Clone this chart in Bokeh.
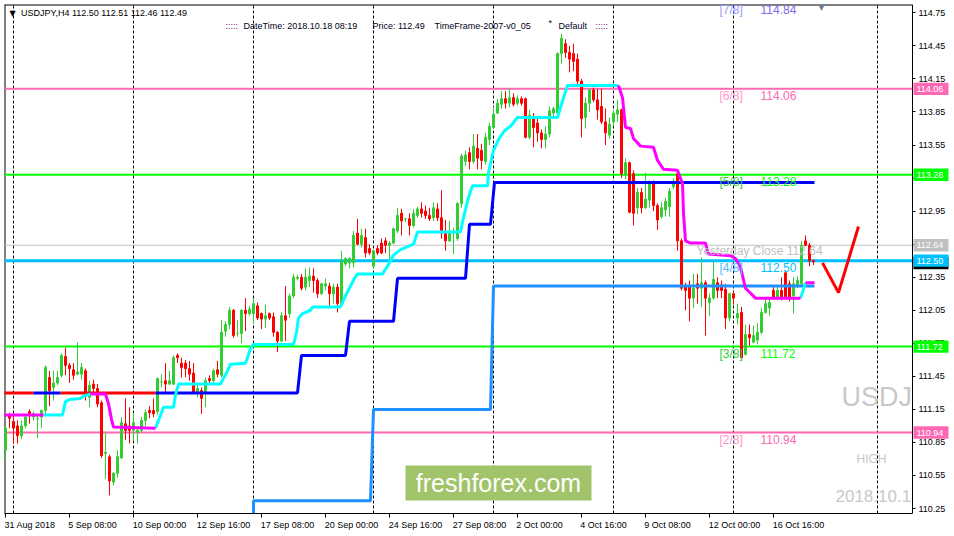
from bokeh.plotting import figure
from bokeh.models import Range1d, FixedTicker, NumeralTickFormatter, Label, ColumnDataSource
from bokeh.embed import file_html
from bokeh.resources import INLINE
from bokeh.core.properties import value

FONT = "Liberation Sans"

# ---------------- data (USDJPY H4, 31 Aug - 18 Oct 2018) ----------------
opens = [
    110.78, 111.09, 111.04, 111.00, 110.91, 111.00, 111.13, 111.08, 111.07, 111.08,
    111.14, 111.44, 111.35, 111.39, 111.46, 111.63, 111.55, 111.51, 111.47, 111.47,
    111.50, 111.26, 111.38, 111.34, 111.21, 110.75, 110.72, 110.49, 110.57, 110.71,
    111.02, 111.00, 110.96, 110.94, 110.96, 111.05, 111.14, 111.14, 111.13, 111.40,
    111.41, 111.38, 111.38, 111.64, 111.57, 111.57, 111.52, 111.48, 111.30, 111.32,
    111.30, 111.43, 111.41, 111.51, 111.46, 111.86, 111.92, 112.05, 111.84, 111.84,
    112.05, 112.02, 112.02, 112.09, 112.02, 111.97, 112.02, 111.99, 111.85, 111.77,
    112.00, 112.02, 112.18, 112.34, 112.35, 112.26, 112.32, 112.36, 112.32, 112.20,
    112.27, 112.27, 112.20, 112.26, 112.11, 112.47, 112.48, 112.48, 112.75, 112.65,
    112.71, 112.61, 112.45, 112.61, 112.66, 112.68, 112.64, 112.66, 112.77, 112.93,
    112.88, 112.88, 112.82, 112.91, 112.97, 112.95, 112.91, 112.89, 112.97, 112.89,
    112.77, 112.68, 112.75, 112.70, 113.02, 113.40, 113.48, 113.40, 113.52, 113.50,
    113.40, 113.60, 113.71, 113.84, 113.92, 113.97, 113.93, 113.98, 113.93, 113.97,
    113.97, 113.62, 113.80, 113.75, 113.66, 113.60, 113.65, 113.84, 113.84, 114.38,
    114.47, 114.39, 114.38, 114.33, 114.13, 113.80, 113.93, 114.05, 113.96, 113.90,
    113.76, 113.64, 113.76, 113.83, 113.87, 113.28, 113.39, 113.29, 112.98, 113.12,
    112.98, 113.05, 113.20, 113.00, 112.90, 112.96, 112.99, 113.17, 113.29, 112.68,
    112.27, 112.27, 112.16, 112.29, 112.25, 112.30, 112.12, 112.16, 112.30, 112.28,
    112.24, 111.98, 112.20, 111.98, 112.03, 111.65, 111.83, 111.76, 111.78, 111.85,
    112.03, 112.07, 112.23, 112.16, 112.23, 112.39, 112.29, 112.18, 112.27, 112.29,
    112.68, 112.64, 112.50]
highs = [
    111.00, 111.12, 111.11, 111.05, 111.05, 111.11, 111.15, 111.13, 111.11, 111.15,
    111.55, 111.50, 111.50, 111.50, 111.66, 111.71, 111.57, 111.57, 111.76, 111.57,
    111.52, 111.41, 111.42, 111.38, 111.23, 110.94, 110.74, 110.58, 110.78, 111.08,
    111.25, 111.17, 111.12, 110.98, 111.08, 111.15, 111.18, 111.25, 111.44, 111.47,
    111.57, 111.50, 111.64, 111.66, 111.62, 111.60, 111.59, 111.57, 111.38, 111.35,
    111.44, 111.46, 111.52, 111.59, 111.96, 111.95, 112.08, 112.06, 111.96, 112.06,
    112.16, 112.09, 112.16, 112.12, 112.03, 112.10, 112.03, 112.03, 111.86, 112.03,
    112.27, 112.20, 112.38, 112.37, 112.38, 112.43, 112.44, 112.43, 112.34, 112.30,
    112.34, 112.30, 112.29, 112.29, 112.59, 112.53, 112.53, 112.77, 112.88, 112.79,
    112.79, 112.65, 112.60, 112.64, 112.70, 112.71, 112.68, 112.80, 112.98, 112.97,
    112.89, 112.93, 112.97, 112.99, 113.03, 113.00, 112.98, 113.03, 113.02, 113.14,
    112.87, 112.86, 112.80, 113.03, 113.47, 113.50, 113.53, 113.65, 113.65, 113.56,
    113.66, 113.75, 113.90, 113.97, 114.04, 114.04, 114.06, 114.02, 114.00, 113.99,
    113.98, 113.87, 113.84, 113.80, 113.69, 113.72, 113.90, 113.90, 114.39, 114.56,
    114.51, 114.45, 114.47, 114.38, 114.15, 113.98, 114.06, 114.07, 114.06, 114.06,
    113.88, 113.80, 113.87, 113.96, 113.88, 113.43, 113.40, 113.32, 113.16, 113.16,
    113.30, 113.23, 113.23, 113.02, 113.03, 113.07, 113.16, 113.25, 113.32, 112.70,
    112.30, 112.32, 112.38, 112.38, 112.53, 112.32, 112.20, 112.50, 112.35, 112.32,
    112.29, 112.21, 112.22, 112.11, 112.08, 111.92, 111.92, 111.91, 111.93, 112.07,
    112.16, 112.15, 112.26, 112.28, 112.35, 112.41, 112.32, 112.35, 112.36, 112.68,
    112.73, 112.66, 112.51]
lows = [
    110.69, 110.98, 110.84, 110.84, 110.88, 110.98, 111.02, 111.05, 110.89, 110.98,
    111.11, 111.18, 111.23, 111.37, 111.44, 111.46, 111.39, 111.42, 111.46, 111.42,
    111.23, 111.17, 111.28, 111.17, 110.71, 110.52, 110.37, 110.46, 110.53, 110.70,
    110.87, 110.84, 110.87, 110.84, 110.94, 111.00, 111.07, 111.08, 111.10, 111.35,
    111.29, 111.37, 111.37, 111.57, 111.44, 111.44, 111.41, 111.29, 111.26, 111.11,
    111.17, 111.39, 111.38, 111.44, 111.44, 111.81, 111.88, 111.80, 111.81, 111.75,
    111.86, 112.00, 111.93, 111.96, 111.88, 111.89, 111.96, 111.81, 111.67, 111.76,
    111.77, 111.98, 112.16, 112.32, 112.23, 112.23, 112.26, 112.21, 112.16, 112.19,
    112.23, 112.09, 112.11, 112.03, 112.09, 112.45, 112.43, 112.44, 112.64, 112.62,
    112.53, 112.55, 112.43, 112.55, 112.56, 112.57, 112.47, 112.65, 112.75, 112.73,
    112.85, 112.73, 112.80, 112.89, 112.89, 112.88, 112.86, 112.86, 112.86, 112.70,
    112.59, 112.67, 112.56, 112.68, 112.98, 113.36, 113.33, 113.38, 113.33, 113.33,
    113.37, 113.55, 113.70, 113.83, 113.88, 113.88, 113.89, 113.90, 113.91, 113.91,
    113.61, 113.60, 113.53, 113.58, 113.52, 113.52, 113.62, 113.80, 113.83, 114.29,
    114.34, 114.21, 114.22, 114.09, 113.62, 113.70, 113.85, 113.94, 113.78, 113.74,
    113.55, 113.61, 113.72, 113.76, 113.25, 113.24, 112.93, 112.82, 112.92, 112.93,
    112.97, 112.98, 112.95, 112.78, 112.88, 112.90, 112.90, 113.15, 112.59, 112.23,
    112.05, 111.95, 112.07, 112.11, 112.08, 111.82, 112.00, 112.15, 112.16, 112.16,
    111.88, 111.95, 112.10, 111.92, 111.61, 111.64, 111.73, 111.75, 111.74, 111.83,
    112.02, 112.00, 112.16, 112.14, 112.14, 112.15, 112.13, 112.02, 112.25, 112.27,
    112.63, 112.45, 112.46]
closes = [
    110.98, 111.07, 110.98, 110.91, 111.00, 111.08, 111.11, 111.11, 111.07, 111.14,
    111.53, 111.32, 111.39, 111.44, 111.64, 111.55, 111.52, 111.46, 111.49, 111.53,
    111.28, 111.37, 111.34, 111.20, 110.73, 110.76, 110.50, 110.57, 110.72, 111.03,
    110.96, 110.96, 111.03, 110.96, 111.05, 111.12, 111.12, 111.11, 111.43, 111.40,
    111.38, 111.41, 111.62, 111.62, 111.53, 111.52, 111.47, 111.30, 111.34, 111.25,
    111.41, 111.41, 111.50, 111.47, 111.85, 111.92, 112.05, 111.82, 111.84, 112.05,
    112.02, 112.06, 112.11, 111.98, 111.97, 112.00, 111.98, 111.85, 111.77, 112.00,
    111.96, 112.18, 112.35, 112.35, 112.25, 112.35, 112.36, 112.32, 112.20, 112.29,
    112.29, 112.20, 112.26, 112.11, 112.50, 112.52, 112.52, 112.73, 112.65, 112.73,
    112.57, 112.57, 112.59, 112.57, 112.57, 112.64, 112.66, 112.79, 112.91, 112.86,
    112.88, 112.82, 112.93, 112.97, 112.93, 112.91, 112.88, 112.98, 112.89, 112.75,
    112.68, 112.77, 112.76, 113.02, 113.45, 113.46, 113.40, 113.54, 113.43, 113.41,
    113.62, 113.72, 113.83, 113.93, 113.97, 113.93, 113.98, 113.92, 113.97, 113.93,
    113.62, 113.82, 113.71, 113.66, 113.60, 113.65, 113.86, 113.88, 114.38, 114.52,
    114.39, 114.33, 114.31, 114.13, 113.79, 113.93, 114.05, 113.96, 113.87, 113.76,
    113.66, 113.74, 113.84, 113.87, 113.29, 113.39, 112.94, 112.93, 113.12, 112.98,
    113.06, 113.20, 113.00, 112.87, 112.98, 113.04, 113.13, 113.22, 112.68, 112.25,
    112.23, 112.16, 112.25, 112.25, 112.30, 112.16, 112.16, 112.33, 112.23, 112.23,
    111.98, 112.20, 112.16, 112.02, 111.62, 111.83, 111.80, 111.82, 111.85, 112.03,
    112.11, 112.12, 112.16, 112.23, 112.16, 112.16, 112.16, 112.29, 112.32, 112.64,
    112.64, 112.50, 112.49]

date_ticks = [0, 16, 32, 48, 64, 80, 96, 112, 128, 144, 160, 176, 192]
date_labels = ["31 Aug 2018", "5 Sep 08:00", "10 Sep 00:00", "12 Sep 16:00", "17 Sep 08:00",
               "20 Sep 00:00", "24 Sep 16:00", "27 Sep 08:00", "2 Oct 00:00", "4 Oct 16:00",
               "9 Oct 08:00", "12 Oct 00:00", "16 Oct 16:00"]
week_lines = [2, 32, 62, 92, 122, 152, 182, 218]
price_ticks = [110.25, 110.55, 110.85, 111.15, 111.45, 111.75, 112.05, 112.35,
               112.65, 112.95, 113.25, 113.55, 113.85, 114.15, 114.45, 114.75]

murray_names = ["[7/8]", "[6/8]", "[5/8]", "[4/8]", "[3/8]", "[2/8]"]
murray_levels = [114.84, 114.06, 113.28, 112.50, 111.72, 110.94]
yesterday_close = 112.64

# trailing stop (up = cyan, down = magenta)
trail_up_xs = [
    [9.5, 14.25, 15, 16, 18.75, 19.5, 21.25],
    [37.5, 38.25, 39.5, 42, 42.5, 43.25, 53.75, 55.5, 56.25, 60, 61.25, 62, 72, 72.75,
     73.25, 74.25, 76.25, 76.75, 83.75, 85.25, 87.25, 88, 94.25, 95.5, 97, 98.75, 102,
     103, 113.75, 114.25, 115.5, 116.25, 116.75, 120.5, 120.75, 122, 123.25, 124.75,
     126.25, 128, 138, 139.25, 140.5, 153.25],
    [198.75, 199.5, 200]]
trail_up_ys = [
    [111.10, 111.10, 111.22, 111.24, 111.25, 111.27, 111.29],
    [110.98, 111.05, 111.17, 111.17, 111.28, 111.38, 111.38, 111.50, 111.56, 111.57,
     111.70, 111.74, 111.74, 111.85, 111.98, 112.02, 112.05, 112.08, 112.08, 112.20,
     112.34, 112.38, 112.38, 112.45, 112.55, 112.60, 112.65, 112.76, 112.76, 112.85,
     113.04, 113.13, 113.18, 113.18, 113.30, 113.50, 113.60, 113.68, 113.72, 113.80,
     113.80, 113.95, 114.09, 114.09],
    [112.16, 112.24, 112.30]]
trail_dn_xs = [
    [-1, 9.5],
    [21.25, 25, 25.75, 26.5, 27, 37.5],
    [153.25, 154.25, 155, 156.25, 157, 158.75, 162, 163, 164.5, 168, 169.25, 169.5,
     170, 171.25, 175, 175.75, 181.25, 182.5, 183.75, 185, 187.5, 198.75],
    [200, 202.25]]
trail_dn_ys = [
    [111.10, 111.10],
    [111.29, 111.29, 111.20, 111.06, 110.99, 110.98],
    [114.09, 113.98, 113.71, 113.70, 113.61, 113.54, 113.53, 113.41, 113.33, 113.32,
     113.20, 112.93, 112.68, 112.66, 112.66, 112.56, 112.545, 112.52, 112.44, 112.25,
     112.16, 112.16],
    [112.30, 112.30]]

# step levels
red_level_xs = [[-1, 7], [13.75, 37.5]]
red_level_ys = [[111.30, 111.30], [111.30, 111.30]]
blue_step_xs = [[7, 13.75],
                [37.5, 73, 74, 85, 86, 97, 98, 115, 116, 121.25, 122.25, 202.25]]
blue_step_ys = [[111.30, 111.30],
                [111.30, 111.30, 111.64, 111.64, 111.95, 111.95, 112.34, 112.34,
                 112.83, 112.83, 113.21, 113.21]]
dodger_step_x = [62, 62, 91.25, 92, 121.25, 122, 202.25]
dodger_step_y = [110.10, 110.32, 110.32, 111.15, 111.15, 112.27, 112.27]

logo_x = [204.25, 208.25, 213.25]
logo_y = [112.48, 112.21, 112.81]

# ---------------- layout constants ----------------
X0, XEDGE, X1 = -0.25, 226.75, 236.75      # frame left, price-scale line, frame right (bars)
Y0, Y1 = 110.205, 114.8256                  # frame bottom / top (price)

p = figure(width=952, height=532, x_range=Range1d(X0, X1), y_range=Range1d(Y0, Y1),
           output_backend="svg", toolbar_location=None, y_axis_location="right",
           min_border_left=4, min_border_top=4, min_border_right=0, min_border_bottom=19,
           background_fill_color="white", border_fill_color="white")
p.outline_line_color = None
p.ygrid.visible = False
p.xgrid.ticker = FixedTicker(ticks=week_lines)
p.xgrid.grid_line_color = "black"
p.xgrid.grid_line_dash = "3 2"
p.xgrid.grid_line_width = 1

# price scale drawn at the chart's right edge
p.yaxis.fixed_location = XEDGE
p.yaxis.ticker = FixedTicker(ticks=price_ticks)
p.yaxis.formatter = NumeralTickFormatter(format="0.00")
p.yaxis.major_label_text_font = FONT
p.yaxis.major_label_text_font_size = "9px"
p.yaxis.major_label_text_color = "black"
p.yaxis.major_tick_out = 3
p.yaxis.major_tick_in = 0
p.yaxis.minor_tick_out = 0
p.yaxis.minor_tick_in = 0
p.yaxis.major_label_standoff = 3
p.yaxis.axis_line_color = "black"
p.yaxis.major_tick_line_color = "black"

# time scale: labels start at their tick (left aligned like MT4)
char_w = {" ": 2.5, ":": 2.5, "A": 6.0, "u": 5.0, "g": 5.0, "S": 6.0, "e": 5.0,
          "p": 5.0, "O": 7.0, "c": 4.5, "t": 2.5}
def text_w(s):
    return sum(char_w.get(ch, 5.0) for ch in s)
label_centers = [round((t + (text_w(lab) / 2 - 1) / 4) * 8) / 8
                 for t, lab in zip(date_ticks, date_labels)]
p.xaxis.bounds = (X0, XEDGE)
p.xaxis.ticker = FixedTicker(ticks=label_centers, minor_ticks=date_ticks)
p.xaxis.major_label_overrides = {c: lab for c, lab in zip(label_centers, date_labels)}
p.xaxis.major_label_text_font = FONT
p.xaxis.major_label_text_font_size = "9px"
p.xaxis.major_label_text_color = "black"
p.xaxis.major_label_standoff = 2
p.xaxis.major_tick_out = 0
p.xaxis.major_tick_in = 0
p.xaxis.minor_tick_out = 4
p.xaxis.minor_tick_in = 0
p.xaxis.minor_tick_line_color = "black"
p.xaxis.axis_line_color = "black"

# frame top / left border
p.segment(x0=[X0, X0], y0=[Y1, Y0], x1=[XEDGE, X0], y1=[Y1, Y1], line_color="black", line_width=2)

# horizontal Murray lines
line_colors = ["#ff69b4", "#ff69b4", "#00ff00", "#00bfff", "#00ff00", "#ff69b4"]
line_widths = [2, 2, 2, 3, 2, 2]
for lvl, col, w in zip(murray_levels, line_colors, line_widths):
    p.segment(x0=[X0], y0=[lvl], x1=[XEDGE], y1=[lvl], line_color=col, line_width=w)
p.segment(x0=[X0], y0=[yesterday_close], x1=[XEDGE], y1=[yesterday_close],
          line_color="#c0c0c0", line_width=1)

# candles
n = min(len(opens), len(highs), len(lows), len(closes))
bars = list(range(n))
cols = ["#32cd32" if closes[i] >= opens[i] else "#ff0000" for i in bars]
src = ColumnDataSource(dict(
    x=bars, h=highs[:n], l=lows[:n],
    top=[max(opens[i], closes[i]) for i in bars],
    bottom=[min(opens[i], closes[i]) for i in bars],
    color=cols))
p.segment(x0="x", y0="l", x1="x", y1="h", line_color="color", line_width=1, source=src)
p.vbar(x="x", width=0.5, top="top", bottom="bottom", fill_color="color",
       line_color="color", line_width=1, source=src)

# indicators
p.multi_line(xs=red_level_xs, ys=red_level_ys, line_color="#ff0000", line_width=3)
p.multi_line(xs=blue_step_xs, ys=blue_step_ys, line_color="#0000ff", line_width=3)
p.line(x=dodger_step_x, y=dodger_step_y, line_color="#1e90ff", line_width=3)
p.multi_line(xs=trail_up_xs, ys=trail_up_ys, line_color="#00ffff", line_width=3)
p.multi_line(xs=trail_dn_xs, ys=trail_dn_ys, line_color="#ff00ff", line_width=3)
p.line(x=logo_x, y=logo_y, line_color="#ff0000", line_width=3)

# watermark box
p.quad(left=[100], right=[146.5], bottom=[110.323], top=[110.641],
       fill_color="#a1c46a", line_color=None)
p.text(x=[123.25], y=[110.482], text=["freshforex.com"], text_color="white",
       text_font=value(FONT), text_font_size="25px", text_align="center",
       text_baseline="middle")

# gray background texts
p.text(x=[209], y=[111.267], text=["USDJPY"], text_color="#c8c8c8",
       text_font=value(FONT), text_font_size="27px", text_baseline="middle")
p.text(x=[212.75], y=[110.704], text=["HIGH"], text_color="#c8c8c8",
       text_font=value(FONT), text_font_size="12px", text_baseline="middle")
p.text(x=[207.5], y=[110.362], text=["2018.10.18"], text_color="#c8c8c8",
       text_font=value(FONT), text_font_size="17px", text_baseline="middle")

# white strip behind the price scale (hides chart texts running past the edge)
p.quad(left=[XEDGE], right=[X1 + 5], bottom=[Y0 - 1], top=[Y1 + 1],
       fill_color="white", line_color=None)

# header texts
title = "USDJPY,H4  %.2f %.2f %.2f %.2f" % (opens[n - 1], highs[n - 1], lows[n - 1], closes[n - 1])
p.text(x=[1.75], y=[114.742], text=["\u25bc"], text_color="black",
       text_font=value("DejaVu Sans"), text_font_size="8px", text_align="center",
       text_baseline="middle")
p.text(x=[3.9], y=[114.745], text=[title], text_color="black",
       text_font=value(FONT), text_font_size="9px", text_baseline="middle")
hdr_x = [55, 59.5, 91.75, 107.25, 138.25, 147.5]
hdr_t = [":::::", "DateTime: 2018.10.18 08:19", "Price: %.2f" % closes[n - 1],
         "TimeFrame-2007-v0_05", "Default", ":::::"]
hdr_c = ["#800080", "#000020", "#000020", "#000020", "#000020", "#800080"]
p.text(x=hdr_x, y=[114.628] * len(hdr_x), text=hdr_t, text_color=hdr_c,
       text_font=value(FONT), text_font_size="9px", text_baseline="middle")
p.text(x=[135.75], y=[114.655], text=["*"], text_color="#000020",
       text_font=value(FONT), text_font_size="9px", text_baseline="middle")

# Murray labels
tag_cols = ["#9a9aff", "#ff99cc", "#32cd32", "#55bbff", "#32cd32", "#ff99cc"]
val_cols = ["#7b68ee", "#ff69b4", "#00ff00", "#00bfff", "#00ff00", "#ff69b4"]
for name, lvl, tc, vc in zip(murray_names, murray_levels, tag_cols, val_cols):
    p.add_layout(Label(x=178.5, y=lvl - 0.064, text=name, text_color=tc,
                       text_font=FONT, text_font_size="12px", text_baseline="middle"))
    p.add_layout(Label(x=188.75, y=lvl - 0.064, text="%.2f" % lvl, text_color=vc,
                       text_font=FONT, text_font_size="12px", text_baseline="middle"))
p.add_layout(Label(x=172.75, y=yesterday_close - 0.055,
                   text="Yesterday Close %.2f" % yesterday_close, text_color="#c0c0c0",
                   text_font=FONT, text_font_size="12px", text_baseline="middle"))
p.add_layout(Label(x=204, y=114.80, text="\u25bc", text_color="#708090",
                   text_font="DejaVu Sans", text_font_size="9px", text_align="center",
                   text_baseline="middle"))

# price tags on the right scale (drawn above the scale labels)
bid_y = closes[n - 1] - 0.012
p.rect(x=[231.375], y=[bid_y], width=8.75, height=0.112,
       fill_color="#000000", line_color=None, level="overlay")
p.text(x=[227.75], y=[bid_y], text=["%.2f" % closes[n - 1]], text_color="white",
       text_font=value(FONT), text_font_size="9px", text_baseline="middle", level="overlay")
tag_levels = [murray_levels[1], murray_levels[2], yesterday_close,
              murray_levels[3], murray_levels[4], murray_levels[5]]
tag_fill = ["#ff69b4", "#00ff00", "#c0c0c0", "#00bfff", "#00ff00", "#ff69b4"]
p.rect(x=[231.375] * len(tag_levels), y=tag_levels, width=8.75, height=0.112,
       fill_color=tag_fill, line_color=None, level="overlay")
p.text(x=[227.75] * len(tag_levels), y=tag_levels, text=["%.2f" % l for l in tag_levels],
       text_color="white", text_font=value(FONT), text_font_size="9px",
       text_baseline="middle", level="overlay")

open("out.html", "w").write(file_html(p, INLINE))
